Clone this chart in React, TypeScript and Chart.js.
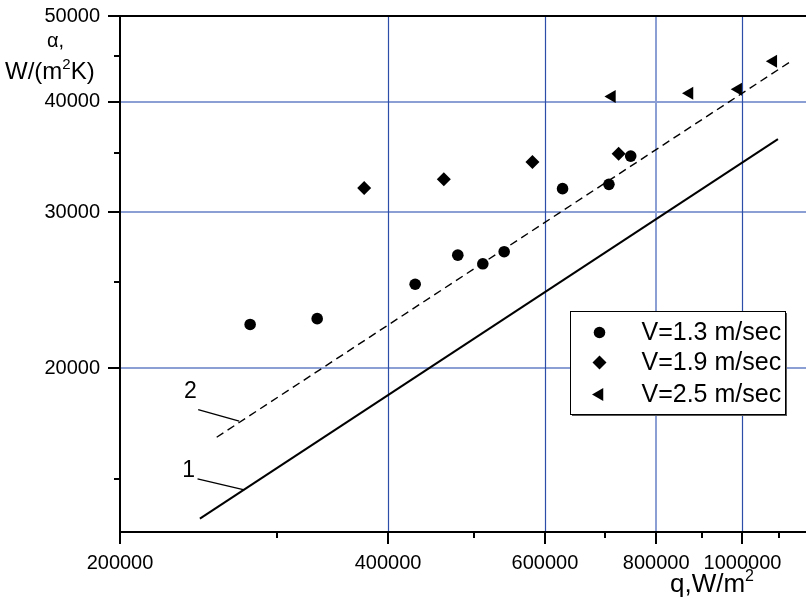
import React, { useEffect, useRef } from 'react';
import { Chart, registerables } from 'chart.js';
import { drawPoint } from 'chart.js/helpers';

Chart.register(...registerables);

const FONT = '"Liberation Sans", Arial, Helvetica, sans-serif';

// Data series (q in W/m^2, alpha in W/(m^2 K))
const v13Q = [280000, 333000, 429000, 479000, 511000, 540000, 628000, 708000, 749000];
const v13Alpha = [22400, 22740, 24870, 26830, 26230, 27070, 31900, 32260, 34720];
const v19Q = [376000, 462000, 581000, 726000];
const v19Alpha = [31950, 32680, 34180, 34940];
const v25Q = [713500, 872000, 989000, 1083000];
const v25Alpha = [40550, 40880, 41320, 44440];

// Correlation lines 1 (solid) and 2 (dashed)
const line1Q = [245900, 1096000];
const line1Alpha = [13510, 36290];
const line2Q = [256800, 1127800];
const line2Alpha = [16700, 44290];

// Ticks
const xTickValues = [200000, 300000, 400000, 500000, 600000, 700000, 800000, 900000, 1000000, 1100000];
const xMajorTicks = [200000, 400000, 600000, 800000, 1000000];
const yTickValues = [15000, 20000, 25000, 30000, 35000, 40000, 45000, 50000];
const yMajorTicks = [20000, 30000, 40000, 50000];
const xGridValues = [400000, 600000, 800000, 1000000];
const xGridLight = [800000];
const yGridValues = [20000, 30000, 40000];

const legendLabels = ['V=1.3 m/sec', 'V=1.9 m/sec', 'V=2.5 m/sec'];

// Line annotations "1" and "2"
const annoLabels = ['1', '2'];
const annoTextQ = [238800, 240000];
const annoTextAlpha = [15315, 18790];
const annoFromQ = [244400, 244800];
const annoFromAlpha = [14990, 17950];
const annoToQ = [275800, 272200];
const annoToAlpha = [14565, 17414];

const pts = (xs: number[], ys: number[]) => xs.map((x, i) => ({ x, y: ys[i] }));

const markerStyles = [
  { pointStyle: 'circle', radius: 5.8, rotation: 0 },
  { pointStyle: 'rectRot', radius: 7, rotation: 0 },
  { pointStyle: 'triangle', radius: 7.5, rotation: -90 },
];

const framePlugin = {
  id: 'frame',
  beforeDatasetsDraw(chart: any) {
    const { ctx, chartArea: a, scales } = chart;
    const x = scales.x;
    const y = scales.y;
    ctx.save();
    // horizontal grid
    ctx.strokeStyle = '#8c9fd4';
    ctx.lineWidth = 2;
    yGridValues.forEach((v) => {
      const py = Math.round(y.getPixelForValue(v));
      ctx.beginPath();
      ctx.moveTo(a.left, py);
      ctx.lineTo(a.right, py);
      ctx.stroke();
    });
    // vertical grid
    xGridValues.forEach((v) => {
      const light = xGridLight.includes(v);
      const px = x.getPixelForValue(v);
      ctx.strokeStyle = light ? '#8c9fd4' : '#2d4ea8';
      ctx.lineWidth = light ? 2 : 1.2;
      const xx = light ? Math.round(px) : Math.round(px) + 0.5;
      ctx.beginPath();
      ctx.moveTo(xx, a.top);
      ctx.lineTo(xx, a.bottom);
      ctx.stroke();
    });
    // axes frame
    ctx.strokeStyle = '#000';
    ctx.lineWidth = 2;
    ctx.beginPath();
    ctx.moveTo(a.left, a.top - 1);
    ctx.lineTo(a.left, a.bottom + 1);
    ctx.moveTo(a.left - 1, a.bottom);
    ctx.lineTo(a.right, a.bottom);
    ctx.moveTo(a.left - 1, a.top);
    ctx.lineTo(a.right, a.top);
    ctx.stroke();
    // y ticks
    yTickValues.forEach((v) => {
      const py = Math.round(y.getPixelForValue(v));
      const len = yMajorTicks.includes(v) ? 12 : 6;
      ctx.beginPath();
      ctx.moveTo(a.left - len, py);
      ctx.lineTo(a.left, py);
      ctx.stroke();
    });
    // x ticks
    xTickValues.forEach((v) => {
      const px = Math.round(x.getPixelForValue(v));
      const len = xMajorTicks.includes(v) ? 12 : 6;
      ctx.beginPath();
      ctx.moveTo(px, a.bottom);
      ctx.lineTo(px, a.bottom + len);
      ctx.stroke();
    });
    ctx.restore();
  },
  afterDraw(chart: any) {
    const { ctx, chartArea: a, scales } = chart;
    const x = scales.x;
    const y = scales.y;
    ctx.save();
    ctx.fillStyle = '#000';
    ctx.strokeStyle = '#000';
    ctx.textBaseline = 'alphabetic';

    // axis titles
    ctx.textAlign = 'left';
    ctx.font = `20px ${FONT}`;
    ctx.fillText('α,', a.left - 73, a.top + 31);
    ctx.font = `24px ${FONT}`;
    let tx = a.left - 115;
    const ty = a.top + 63;
    ctx.fillText('W/(m', tx, ty);
    tx += ctx.measureText('W/(m').width;
    ctx.font = `15px ${FONT}`;
    ctx.fillText('2', tx, ty - 10);
    tx += ctx.measureText('2').width;
    ctx.font = `24px ${FONT}`;
    ctx.fillText('K)', tx, ty);

    ctx.font = `26px ${FONT}`;
    let qx = a.right - 143;
    const qy = a.bottom + 60;
    ctx.fillText('q,W/m', qx, qy);
    qx += ctx.measureText('q,W/m').width;
    ctx.font = `16px ${FONT}`;
    ctx.fillText('2', qx, qy - 11);

    // line annotations
    ctx.font = `23px ${FONT}`;
    ctx.textAlign = 'center';
    ctx.textBaseline = 'middle';
    ctx.lineWidth = 1.3;
    annoLabels.forEach((lab, i) => {
      ctx.fillText(lab, x.getPixelForValue(annoTextQ[i]), y.getPixelForValue(annoTextAlpha[i]));
      ctx.beginPath();
      ctx.moveTo(x.getPixelForValue(annoFromQ[i]), y.getPixelForValue(annoFromAlpha[i]));
      ctx.lineTo(x.getPixelForValue(annoToQ[i]), y.getPixelForValue(annoToAlpha[i]));
      ctx.stroke();
    });

    // legend box
    const bx = Math.round(a.right - 243) + 0.5;
    const by = Math.round(a.top + 295) + 0.5;
    const bw = 215;
    const bh = 103;
    ctx.fillStyle = '#555';
    ctx.fillRect(bx + 1.5, by + 1.5, bw, bh);
    ctx.fillStyle = '#fff';
    ctx.fillRect(bx, by, bw, bh);
    ctx.strokeStyle = '#000';
    ctx.lineWidth = 1;
    ctx.strokeRect(bx, by, bw, bh);
    ctx.fillStyle = '#000';
    ctx.textAlign = 'left';
    ctx.font = `25px ${FONT}`;
    const rowY = [21, 51, 83];
    legendLabels.forEach((lab, i) => {
      const ry = by + rowY[i];
      const ms = markerStyles[i];
      ctx.fillStyle = '#000';
      ctx.strokeStyle = '#000';
      drawPoint(ctx, { pointStyle: ms.pointStyle, radius: ms.radius, rotation: ms.rotation, borderWidth: 0 } as any, bx + 29, ry);
      ctx.fillStyle = '#000';
      ctx.fillText(lab, bx + 71, ry + 1);
    });
    ctx.restore();
  },
};

export default function App() {
  const ref = useRef<HTMLCanvasElement | null>(null);
  useEffect(() => {
    if (!ref.current) return;
    const scatterDs = (label: string, data: any[], i: number) => ({
      label,
      data,
      showLine: false,
      pointStyle: markerStyles[i].pointStyle,
      pointRadius: markerStyles[i].radius,
      pointRotation: markerStyles[i].rotation,
      pointBackgroundColor: '#000',
      pointBorderColor: '#000',
      pointBorderWidth: 0,
      pointHoverRadius: markerStyles[i].radius,
    });
    const chart = new Chart(ref.current, {
      type: 'scatter',
      data: {
        datasets: [
          {
            label: '1',
            data: pts(line1Q, line1Alpha),
            showLine: true,
            borderColor: '#000',
            borderWidth: 2,
            pointRadius: 0,
          },
          {
            label: '2',
            data: pts(line2Q, line2Alpha),
            showLine: true,
            borderColor: '#000',
            borderWidth: 1.4,
            borderDash: [8, 5],
            pointRadius: 0,
          },
          scatterDs(legendLabels[0], pts(v13Q, v13Alpha), 0),
          scatterDs(legendLabels[1], pts(v19Q, v19Alpha), 1),
          scatterDs(legendLabels[2], pts(v25Q, v25Alpha), 2),
        ] as any,
      },
      options: {
        animation: false,
        responsive: false,
        devicePixelRatio: 1,
        layout: { padding: { top: 16, right: 17, left: 0, bottom: 0 } },
        plugins: { legend: { display: false }, tooltip: { enabled: false } },
        scales: {
          x: {
            type: 'logarithmic',
            position: 'bottom',
            min: 200000,
            max: 1200000,
            grid: { display: false, drawTicks: false },
            border: { display: false },
            ticks: {
              autoSkip: false,
              maxRotation: 0,
              padding: 19,
              color: '#000',
              font: { family: FONT, size: 20 },
              callback: (v: any) => (xMajorTicks.includes(Number(v)) ? String(v) : ''),
            },
            afterBuildTicks: (s: any) => {
              s.ticks = xTickValues.map((v) => ({ value: v }));
            },
            afterFit: (s: any) => {
              s.height = 67;
              s.paddingLeft = 0;
              s.paddingRight = 0;
            },
          },
          y: {
            type: 'logarithmic',
            position: 'left',
            min: 13050,
            max: 50000,
            grid: { display: false, drawTicks: false },
            border: { display: false },
            ticks: {
              autoSkip: false,
              padding: 20,
              color: '#000',
              font: { family: FONT, size: 20 },
              callback: (v: any) => (yMajorTicks.includes(Number(v)) ? String(v) : ''),
            },
            afterBuildTicks: (s: any) => {
              s.ticks = yTickValues.map((v) => ({ value: v }));
            },
            afterFit: (s: any) => {
              s.width = 120;
              s.paddingTop = 0;
              s.paddingBottom = 0;
            },
          },
        },
      } as any,
      plugins: [framePlugin],
    });
    return () => chart.destroy();
  }, []);
  return (
    <div style={{ position: 'fixed', left: 0, top: 0, width: 806, height: 599, overflow: 'hidden', background: '#fff' }}>
      <canvas ref={ref} width={830} height={599} style={{ display: 'block', width: 830, height: 599 }} />
    </div>
  );
}
